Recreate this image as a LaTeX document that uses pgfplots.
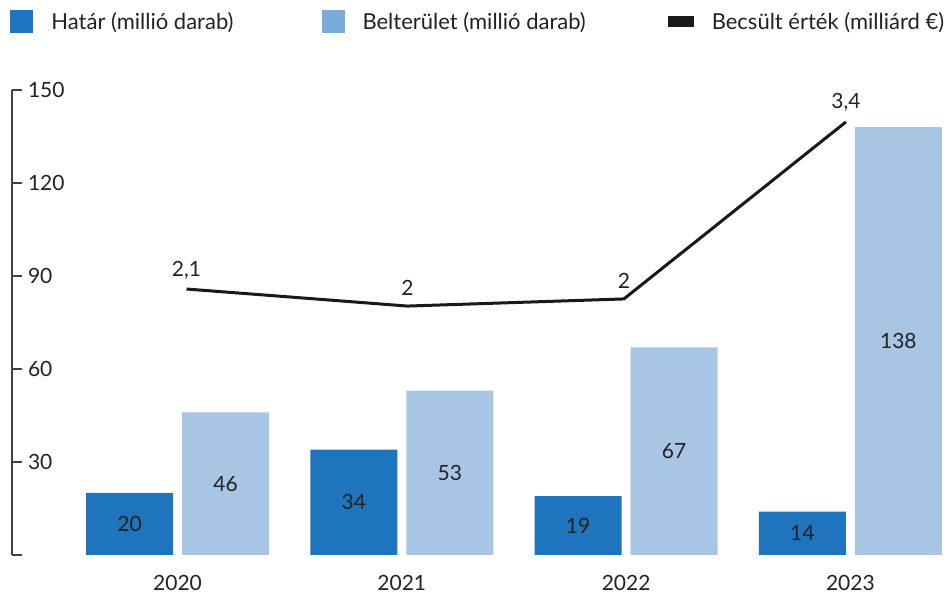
\documentclass[border=0pt]{standalone}
\usepackage{fontspec}
\setmainfont{Lato}
\usepackage{pgfplots}
\pgfplotsset{compat=1.18}
\definecolor{dark}{HTML}{1F74BE}
\definecolor{light}{HTML}{A8C6E4}
\definecolor{lightleg}{HTML}{76ABDA}
\definecolor{txt}{HTML}{222222}

\begin{document}
\begin{tikzpicture}
\begin{axis}[
  scale only axis, width=466.3pt, height=232.5pt,
  xmin=-0.738, xmax=3.42, ymin=0, ymax=150,
  clip=false,
  axis lines=left, axis line style={-},
  x axis line style={draw=none},
  y axis line style={black!75, line width=0.7pt},
  xtick={0,1,2,3}, xticklabels={2020,2021,2022,2023},
  xtick style={draw=none},
  ytick={0,30,...,150}, yticklabels={,30,60,90,120,150},
  ytick style={black!75, line width=0.7pt},
  tick align=inside, major tick length=5pt,
  yticklabel style={anchor=west, xshift=4.5pt},
  xticklabel style={yshift=-6.5pt},
  tick label style={font=\fontsize{10.5}{12}\selectfont, text=txt},
  /pgf/number format/assume math mode=true,
  legend columns=3,
  legend style={at={(axis description cs:0,1)}, anchor=west, xshift=-1pt, yshift=34pt,
    draw=none, fill=none, inner sep=0pt,
    font=\fontsize{11}{13}\selectfont, text=txt,
    /tikz/every even column/.append style={column sep=42pt},
    /tikz/every odd column/.append style={column sep=7pt}},
]
% Határ
\addplot[ybar, bar width=43.5pt, bar shift=-24pt, fill=dark, draw=none,
  legend image code/.code={\fill[dark] (0pt,-5.75pt) rectangle (11.5pt,5.75pt);},
  visualization depends on={rawy \as \ry},
  nodes near coords,
  every node near coord/.append style={anchor=center, xshift=-24pt, yshift={-0.775*\ry pt},
    font=\fontsize{10.5}{12}\selectfont, text=txt}]
  coordinates {(0,20) (1,34) (2,19) (3,14)};
\addlegendentry{Határ (millió darab)}
% Belterület
\addplot[ybar, bar width=43.5pt, bar shift=24pt, fill=light, draw=none,
  legend image code/.code={\fill[lightleg] (0pt,-5.75pt) rectangle (11.5pt,5.75pt);},
  visualization depends on={rawy \as \ry},
  nodes near coords,
  every node near coord/.append style={anchor=center, xshift=24pt, yshift={-0.775*\ry pt},
    font=\fontsize{10.5}{12}\selectfont, text=txt}]
  coordinates {(0,46) (1,53) (2,67) (3,138)};
\addlegendentry{Belterület (millió darab)\hspace*{-3pt}}
% Becsült érték
\addplot[sharp plot, black!90, line width=1.5pt, mark=none,
  legend image code/.code={\fill[black!90] (0pt,-2pt) rectangle (11.5pt,2pt);},
  nodes near coords, point meta=explicit symbolic,
  every node near coord/.append style={anchor=south, yshift=1pt,
    font=\fontsize{10.5}{12}\selectfont, text=txt}]
  table[meta=lab] {
x y lab
0.04 85.8 2,1
1.025 80.3 2
1.99 82.6 2
2.98 139.7 3,4
};
\addlegendentry{Becsült érték (milliárd €)}
\coordinate (sw) at (rel axis cs:0,0);
\coordinate (ne) at (rel axis cs:1,1);
\end{axis}
\pgfresetboundingbox
\path ([shift={(-6pt,-19.5pt)}]sw) rectangle ([shift={(3.2pt,45pt)}]ne);
\end{tikzpicture}
\end{document}
